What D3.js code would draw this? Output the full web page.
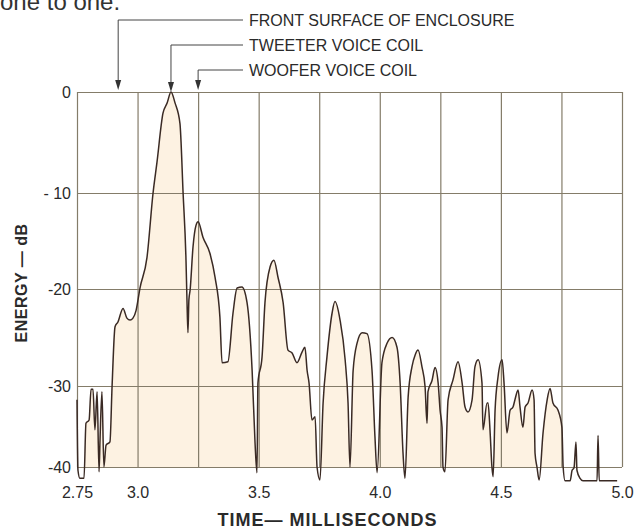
<!DOCTYPE html>
<html>
<head>
<meta charset="utf-8">
<script src="https://cdn.jsdelivr.net/npm/d3@7"></script>
<style>
  body { margin: 0; background: #fff; }
  text { font-family: "Liberation Sans", Arial, sans-serif; fill: #2a2a2a; }
</style>
</head>
<body>
<div id="chart"></div>
<script>
// energy-time trace
var timeMs = [2.750, 2.754, 2.762, 2.779, 2.787, 2.800, 2.808, 2.816, 2.824, 2.833,
  2.841, 2.845, 2.853, 2.861, 2.870, 2.886, 2.895, 2.907, 2.919, 2.940,
  2.956, 2.969, 2.981, 2.994, 3.010, 3.039, 3.064, 3.080, 3.105, 3.122,
  3.138, 3.155, 3.175, 3.188, 3.200, 3.204, 3.208, 3.212, 3.217, 3.229,
  3.241, 3.250, 3.270, 3.299, 3.320, 3.340, 3.349, 3.373, 3.394, 3.411,
  3.431, 3.452, 3.473, 3.485, 3.493, 3.497, 3.514, 3.526, 3.547, 3.563,
  3.580, 3.601, 3.621, 3.638, 3.658, 3.679, 3.691, 3.700, 3.708, 3.720,
  3.733, 3.741, 3.753, 3.766, 3.782, 3.803, 3.815, 3.836, 3.857, 3.869,
  3.877, 3.890, 3.906, 3.927, 3.947, 3.968, 3.980, 3.989, 4.009, 4.030,
  4.051, 4.071, 4.084, 4.096, 4.104, 4.117, 4.133, 4.146, 4.158, 4.174,
  4.187, 4.195, 4.199, 4.216, 4.228, 4.241, 4.249, 4.257, 4.261, 4.269,
  4.282, 4.302, 4.323, 4.340, 4.352, 4.364, 4.381, 4.393, 4.406, 4.422,
  4.426, 4.443, 4.447, 4.455, 4.463, 4.468, 4.476, 4.488, 4.505, 4.513,
  4.525, 4.538, 4.550, 4.558, 4.571, 4.579, 4.591, 4.600, 4.612, 4.629,
  4.637, 4.641, 4.649, 4.658, 4.674, 4.691, 4.703, 4.715, 4.736, 4.752,
  4.757, 4.765, 4.786, 4.794, 4.802, 4.810, 4.814, 4.827, 4.839, 4.897,
  4.901, 4.906, 4.980];
var energyDb = [-31.7, -40.4, -41.4, -41.4, -34.6, -34.2, -30.4, -30.4, -35.4, -30.7,
  -40.6, -36.7, -30.7, -40.0, -37.3, -36.9, -29.9, -23.9, -23.4, -22.0,
  -23.0, -23.2, -23.0, -22.2, -19.9, -16.7, -10.0, -7.0, -2.1, -1.1,
  0, -1.1, -3.1, -10.0, -17.0, -21.1, -24.5, -21.1, -20.1, -15.6,
  -13.4, -13.0, -14.6, -16.3, -18.8, -22.9, -27.6, -27.5, -22.5, -19.9,
  -19.8, -21.4, -28.4, -37.0, -40.7, -29.7, -27.0, -21.4, -17.7, -17.0,
  -18.8, -21.4, -26.3, -26.6, -27.6, -26.5, -26.0, -28.4, -29.7, -34.2,
  -33.8, -40.0, -41.6, -32.1, -27.0, -22.5, -21.3, -23.2, -27.3, -32.1,
  -40.0, -28.4, -25.6, -24.5, -24.6, -28.4, -36.2, -40.7, -27.6, -25.6,
  -25.0, -26.0, -29.7, -38.3, -41.4, -31.4, -28.0, -26.8, -26.3, -28.0,
  -30.1, -34.6, -30.7, -29.4, -28.1, -29.7, -33.0, -35.1, -40.0, -40.6,
  -31.7, -29.4, -27.5, -29.7, -32.6, -33.2, -31.7, -28.0, -27.3, -29.7,
  -35.4, -32.1, -32.1, -35.4, -40.0, -41.2, -33.0, -29.1, -27.3, -29.7,
  -35.8, -33.0, -32.6, -31.7, -30.5, -32.6, -35.1, -32.6, -32.1, -30.5,
  -31.7, -38.3, -40.0, -41.6, -35.8, -31.7, -30.3, -32.1, -33.0, -35.1,
  -40.0, -41.7, -41.7, -40.4, -40.1, -36.9, -40.4, -41.4, -41.7, -41.7,
  -36.1, -41.7, -41.7];

var xTicks = [2.75, 3.0, 3.5, 4.0, 4.5, 5.0];
var xTickLabels = ["2.75", "3.0", "3.5", "4.0", "4.5", "5.0"];
var xGrid = [2.75, 3.0, 3.25, 3.5, 3.75, 4.0, 4.25, 4.5, 4.75, 5.0];
var yTicks = [0, -10, -20, -30, -40];
var yTickLabels = ["0", "- 10", "-20", "-30", "-40"];
var markerNames = ["FRONT SURFACE OF ENCLOSURE", "TWEETER VOICE COIL", "WOOFER VOICE COIL"];
var markerTimes = [2.92, 3.138, 3.25];

var width = 634, height = 529;
var plotLeft = 77, plotRight = 622, plotTop = 92, plotBottom = 467;

var svg = d3.select("#chart").append("svg")
    .attr("width", width)
    .attr("height", height);

var x = d3.scaleLinear().domain([2.75, 5.0]).range([plotLeft, plotRight]);
// the printed grid is not quite even, so map each decade to its own line
var y = d3.scaleLinear().domain(yTicks).range([92, 193, 289, 386, 467]);

var points = timeMs.map((t, i) => ({t: t, e: energyDb[i]}));

// scrap of article text at the very top
svg.append("text")
    .attr("x", 0).attr("y", 10)
    .style("font-size", "24px")
    .style("fill", "#333")
    .text("one to one.");

svg.append("clipPath").attr("id", "plot")
  .append("rect")
    .attr("x", plotLeft).attr("y", plotTop)
    .attr("width", plotRight - plotLeft).attr("height", plotBottom - plotTop);

var area = d3.area()
    .curve(d3.curveMonotoneX)
    .x(d => x(d.t))
    .y0(y(-40))
    .y1(d => y(d.e));

svg.append("path")
    .datum(points)
    .attr("clip-path", "url(#plot)")
    .attr("fill", "#fdf2e2")
    .attr("d", area);

// grid
svg.append("g")
    .attr("class", "grid")
    .attr("transform", "translate(0," + plotBottom + ")")
    .call(d3.axisBottom(x).tickValues(xGrid).tickSize(-(plotBottom - plotTop)).tickFormat(""));
svg.append("g")
    .attr("class", "grid")
    .attr("transform", "translate(" + plotLeft + ",0)")
    .call(d3.axisLeft(y).tickValues(yTicks).tickSize(-(plotRight - plotLeft)).tickFormat(""));
svg.selectAll(".grid .domain").remove();
svg.selectAll(".grid line")
    .attr("stroke", "#847c69")
    .attr("stroke-width", 1.2);

var line = d3.line()
    .curve(d3.curveMonotoneX)
    .x(d => x(d.t))
    .y(d => y(d.e));

svg.append("path")
    .datum(points)
    .attr("fill", "none")
    .attr("stroke", "#3a2a24")
    .attr("stroke-width", 1.5)
    .attr("stroke-linejoin", "round")
    .attr("d", line);

// tick labels
var ax = svg.append("g")
    .attr("transform", "translate(0," + plotBottom + ")")
    .call(d3.axisBottom(x).tickValues(xTicks).tickSize(0).tickPadding(20)
      .tickFormat((d, i) => xTickLabels[i]));
var ay = svg.append("g")
    .attr("transform", "translate(" + plotLeft + ",0)")
    .call(d3.axisLeft(y).tickValues(yTicks).tickSize(0).tickPadding(6)
      .tickFormat((d, i) => yTickLabels[i]));
ax.select(".domain").remove();
ay.select(".domain").remove();
svg.selectAll(".tick text")
    .style("font-family", "\"Liberation Sans\", Arial, sans-serif")
    .style("font-size", "16px")
    .attr("fill", "#2a2a2a");

// axis titles
svg.append("text")
    .attr("x", (plotLeft + plotRight) / 2 - 22).attr("y", 526)
    .attr("text-anchor", "middle")
    .style("font-size", "18px")
    .style("font-weight", "bold")
    .style("letter-spacing", "1px")
    .text("TIME\u2014 MILLISECONDS");

svg.append("text")
    .attr("transform", "translate(27,283) rotate(-90)")
    .attr("text-anchor", "middle")
    .style("font-size", "16px")
    .style("font-weight", "bold")
    .style("letter-spacing", "0.5px")
    .text("ENERGY \u2014 dB");

// callout arrows
var callouts = svg.append("g").attr("class", "callouts");
markerNames.forEach(function(name, i) {
  var rowY = 20 + i * 25;
  var cx = x(markerTimes[i]);
  var tip = y(0) - (i == 1 ? 0 : 2);
  callouts.append("path")
      .attr("d", "M" + cx + "," + (tip - 8) + "V" + rowY + "H243")
      .attr("fill", "none")
      .attr("stroke", "#444")
      .attr("stroke-width", 1);
  callouts.append("path")
      .attr("d", "M" + (cx - 3) + "," + (tip - 10) + "L" + (cx + 3) + "," + (tip - 10) + "L" + cx + "," + tip + "Z")
      .attr("fill", "#333");
  callouts.append("text")
      .attr("x", 249).attr("y", rowY + 6)
      .style("font-size", "16px")
      .text(name);
});
</script>
</body>
</html>
